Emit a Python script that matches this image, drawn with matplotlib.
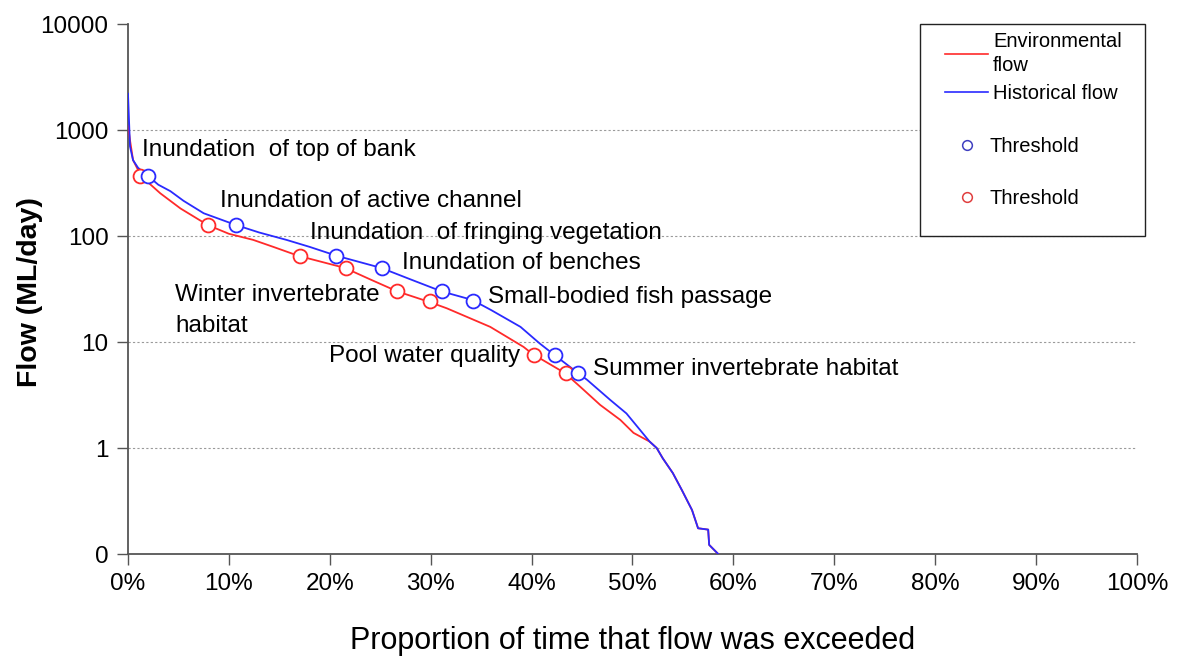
import matplotlib

matplotlib.use("Agg")
import matplotlib.pyplot as plt
from matplotlib import font_manager
from matplotlib.lines import Line2D
from matplotlib.patches import Rectangle
from matplotlib.ticker import FixedLocator, FuncFormatter

# flow duration curves (% of time exceeded, ML/day)
hist_pct = [0, 0.2, 0.5, 1.0, 2.0, 3.0, 4.2, 5.5, 7.5, 10.7, 13.0, 15.7, 18.0, 20.7,
            25.1, 28.0, 31.1, 34.1, 36.0, 38.9, 40.8, 42.3, 44.6, 45.5, 47.8, 49.4,
            51.7, 52.4, 53.0, 54.0, 54.9, 55.9, 56.5, 57.5, 57.6, 58.5]
hist_flow = [2200, 700, 520, 440, 368, 305, 265, 215, 164, 127, 108, 92, 79, 65,
             50, 39, 30, 25, 20, 13.9, 9.7, 7.5, 5.1, 4.4, 2.84, 2.12,
             1.15, 1.0, 0.8, 0.58, 0.40, 0.26, 0.175, 0.17, 0.122, 0.1]

env_pct = [0, 0.2, 0.5, 1.3, 2.0, 3.2, 5.2, 7.9, 10.0, 12.4, 14.4, 16.9, 21.5,
           24.0, 26.7, 29.8, 31.6, 35.9, 39.2, 40.1, 43.3, 44.8, 46.8, 48.8, 50.1,
           51.7, 52.4, 53.0, 54.0, 54.9, 55.9, 56.5, 57.5, 57.6, 58.5]
env_flow = [1100, 800, 521, 368, 320, 253, 182, 127, 105, 92, 79, 65, 50,
            39, 30, 24, 20.8, 13.9, 9.0, 7.7, 5.1, 3.8, 2.55, 1.84, 1.39,
            1.15, 1.0, 0.8, 0.58, 0.40, 0.26, 0.175, 0.17, 0.122, 0.1]

# ecological thresholds
thr_labels = ["Inundation  of top of bank", "Inundation of active channel",
              "Inundation  of fringing vegetation", "Inundation of benches",
              "Winter invertebrate\nhabitat", "Small-bodied fish passage",
              "Pool water quality", "Summer invertebrate habitat"]
thr_flow = [368, 127, 65, 50, 30, 24.5, 7.6, 5.1]
thr_hist_pct = [2.0, 10.7, 20.6, 25.2, 31.1, 34.2, 42.3, 44.6]
thr_env_pct = [1.2, 7.9, 17.0, 21.6, 26.7, 29.9, 40.2, 43.4]

y_ticks = [0.1, 1, 10, 100, 1000, 10000]
y_tick_labels = ["0", "1", "10", "100", "1000", "10000"]
x_ticks = list(range(0, 101, 10))

available = {f.name for f in font_manager.fontManager.ttflist}
sans = "Liberation Sans" if "Liberation Sans" in available else "DejaVu Sans"
narrow = "Liberation Sans Narrow" if "Liberation Sans Narrow" in available else sans
plt.rcParams["font.family"] = [sans, "DejaVu Sans"]

RED = "#ff2a2a"
BLUE = "#2a2aff"

fig = plt.figure(figsize=(11.84, 6.58), dpi=100)
ax = fig.add_axes([0.1081, 0.158, 0.8522, 0.8055])

ax.plot(env_pct, env_flow, color=RED, lw=1.3, zorder=3)
ax.plot(hist_pct, hist_flow, color=BLUE, lw=1.3, zorder=4)
ax.plot(thr_env_pct, thr_flow, ls="none", marker="o", ms=10, mfc="white",
        mec=RED, mew=1.3, zorder=5)
ax.plot(thr_hist_pct, thr_flow, ls="none", marker="o", ms=10, mfc="white",
        mec=BLUE, mew=1.3, zorder=5)

# where each label sits (% exceeded, flow), left edge / vertical centre
label_x = [1.4, 9.1, 18.0, 27.2, 4.7, 35.7, 38.9, 46.1]
label_y = [650, 214, 107, 55.6, 19.8, 26.6, 7.4, 5.6]
for lab, lx, ly in zip(thr_labels, label_x, label_y):
    ha = "right" if lab.startswith("Pool") else "left"
    ax.text(lx, ly, lab, fontsize=17.5, ha=ha, va="center",
            linespacing=1.55, zorder=6)

ax.set_yscale("log")
ax.set_ylim(0.1, 10000)
ax.set_xlim(0, 100)
ax.yaxis.set_major_locator(FixedLocator(y_ticks))
ax.yaxis.set_minor_locator(FixedLocator([]))
ax.set_yticklabels(y_tick_labels)
ax.set_xticks(x_ticks)
ax.xaxis.set_major_formatter(FuncFormatter(lambda v, p: f"{int(v)}%"))

for v in y_ticks[1:-1]:
    ax.axhline(v, color="#9a9a9a", ls=(0, (2, 2)), lw=0.8, zorder=1)

for s in ("top", "right"):
    ax.spines[s].set_visible(False)
for s in ("left", "bottom"):
    ax.spines[s].set_color("#555555")
    ax.spines[s].set_linewidth(1.3)
ax.tick_params(axis="both", direction="out", length=8, width=1.0,
               color="#555555", labelsize=17.5, pad=6)
for t in ax.get_xticklabels():
    t.set_fontfamily([narrow, sans])

ax.set_ylabel("Flow (ML/day)", fontsize=20.5, fontweight="bold")
ax.yaxis.set_label_coords(-0.084, 0.495)
ax.set_xlabel("Proportion of time that flow was exceeded", fontsize=22,
              family=[narrow, sans], labelpad=22)

# legend: frame drawn separately, entries in two groups like the original
fig.patches.append(Rectangle((920 / 1184, 1 - 236 / 658), 225 / 1184, 212 / 658,
                             transform=fig.transFigure, fill=True, fc="white",
                             ec="#222222", lw=1.0, zorder=10))
line_handles = [Line2D([], [], color=RED, lw=1.2), Line2D([], [], color=BLUE, lw=1.2)]
leg1 = fig.legend(line_handles, ["Environmental\nflow", "Historical flow"],
                  loc="upper left", bbox_to_anchor=(945 / 1184, 1 - 32 / 658),
                  frameon=False, borderpad=0, borderaxespad=0, fontsize=14.5,
                  handlelength=2.14, handletextpad=0.25, labelspacing=0.45)
for t in leg1.get_texts():
    t.set_linespacing(1.35)
leg1.set_zorder(11)

mark_handles = [
    Line2D([], [], ls="none", marker="o", ms=7, mfc="white", mec="#3f3fc0", mew=1.1),
    Line2D([], [], ls="none", marker="o", ms=7, mfc="white", mec="#e03f3f", mew=1.1),
]
leg2 = fig.legend(mark_handles, ["Threshold", "Threshold"], loc="upper left",
                  bbox_to_anchor=(952 / 1184, 1 - 137 / 658), frameon=False,
                  borderpad=0, borderaxespad=0, fontsize=14.5, handlelength=1.5,
                  handletextpad=0.35, labelspacing=1.65)
leg2.set_zorder(11)

fig.savefig("out.png", dpi=100)
